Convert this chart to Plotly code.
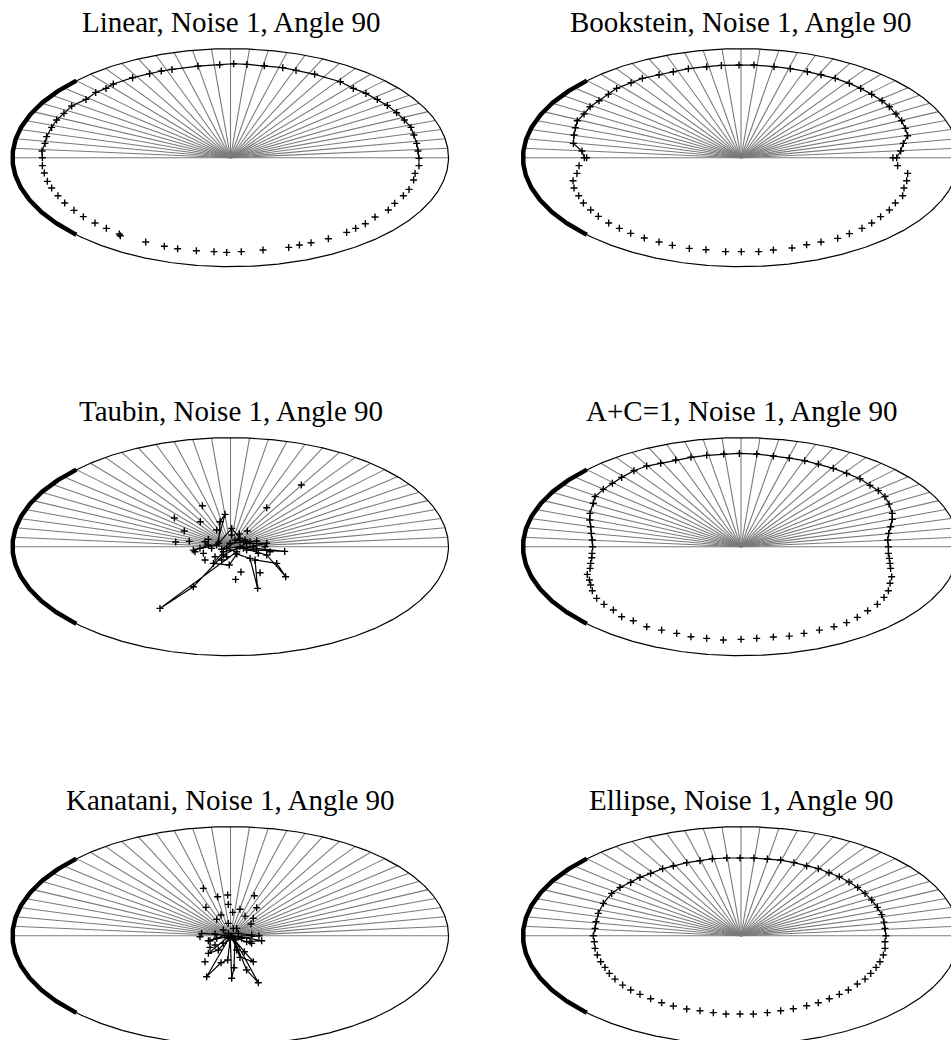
import numpy as np
import plotly.graph_objects as go

# ---------------- text ----------------
TITLES = [
    "Linear, Noise 1, Angle 90",
    "Bookstein, Noise 1, Angle 90",
    "Taubin, Noise 1, Angle 90",
    "A+C=1, Noise 1, Angle 90",
    "Kanatani, Noise 1, Angle 90",
    "Ellipse, Noise 1, Angle 90",
]

# ---------------- reference geometry (data units) ----------------
OUTER_A = 2.0          # semi-axis of the outer (true) ellipse, x
OUTER_B = 1.0          # semi-axis of the outer (true) ellipse, y
RAY_ANGLES_DEG = list(range(0, 181, 5))
ARC_START_DEG = 135    # data arc (90 degrees) drawn thick
ARC_END_DEG = 225

# ---------------- data ----------------
# Linear
linear_line_x = [-1.726, -1.729, -1.702, -1.687, -1.641, -1.595, -1.528, -1.457, -1.326, -1.237, -1.142, -1.075,
                 -0.898, -0.742, -0.635, -0.537, -0.298, -0.099, 0.029, 0.151, 0.310, 0.479, 0.601, 0.772,
                 1.008, 1.127, 1.243, 1.347, 1.439, 1.524, 1.595, 1.656, 1.683, 1.708, 1.720, 1.729]
linear_line_y = [0.000, 0.061, 0.131, 0.193, 0.278, 0.346, 0.407, 0.474, 0.535, 0.599, 0.636, 0.676,
                 0.734, 0.771, 0.795, 0.810, 0.841, 0.853, 0.862, 0.856, 0.844, 0.826, 0.801, 0.765,
                 0.697, 0.636, 0.590, 0.535, 0.480, 0.413, 0.346, 0.278, 0.208, 0.131, 0.061, -0.006]
linear_pts_x = [-1.726, -1.708, -1.680, -1.641, -1.583, -1.521, -1.436, -1.350, -1.243, -1.139, -1.020, -1.011,
                -0.778, -0.607, -0.485, -0.313, -0.151, -0.035, 0.099, 0.298, 0.534, 0.632, 0.739, 0.898,
                1.066, 1.148, 1.237, 1.326, 1.448, 1.506, 1.586, 1.638, 1.680, 1.693, 1.729]
linear_pts_y = [-0.073, -0.141, -0.217, -0.278, -0.349, -0.416, -0.483, -0.541, -0.599, -0.648, -0.700, -0.716,
                -0.774, -0.813, -0.835, -0.853, -0.862, -0.869, -0.862, -0.847, -0.823, -0.801, -0.780, -0.743,
                -0.685, -0.648, -0.606, -0.544, -0.480, -0.419, -0.349, -0.291, -0.205, -0.144, -0.073]

# Bookstein
bookstein_line_x = [-1.416, -1.437, -1.459, -1.538, -1.532, -1.520, -1.502, -1.440, -1.385, -1.303, -1.217, -1.141,
                    -1.009, -0.905, -0.752, -0.621, -0.483, -0.315, -0.180, -0.018, 0.119, 0.303, 0.453, 0.609,
                    0.734, 0.865, 0.994, 1.098, 1.199, 1.294, 1.361, 1.422, 1.474, 1.508, 1.529, 1.489, 1.465,
                    1.428, 1.394]
bookstein_line_y = [0.000, 0.000, 0.061, 0.131, 0.208, 0.275, 0.339, 0.401, 0.468, 0.523, 0.581, 0.636,
                    0.688, 0.728, 0.761, 0.789, 0.817, 0.835, 0.847, 0.850, 0.850, 0.835, 0.817, 0.789,
                    0.761, 0.728, 0.682, 0.636, 0.581, 0.523, 0.468, 0.401, 0.339, 0.269, 0.202, 0.131, 0.061,
                    0.000, 0.000]
bookstein_pts_x = [-1.486, -1.505, -1.541, -1.532, -1.489, -1.446, -1.379, -1.309, -1.214, -1.116, -1.012, -0.887,
                   -0.752, -0.630, -0.474, -0.321, -0.141, 0.003, 0.162, 0.297, 0.468, 0.602, 0.734, 0.887,
                   0.994, 1.110, 1.199, 1.281, 1.361, 1.416, 1.483, 1.495, 1.520, 1.529, 1.437]
bookstein_pts_y = [-0.073, -0.144, -0.211, -0.278, -0.349, -0.416, -0.480, -0.538, -0.599, -0.648, -0.694, -0.737,
                   -0.774, -0.804, -0.832, -0.844, -0.862, -0.862, -0.862, -0.847, -0.829, -0.798, -0.774, -0.740,
                   -0.697, -0.648, -0.599, -0.541, -0.480, -0.416, -0.349, -0.278, -0.211, -0.144, -0.073]

# Taubin
taubin_line_x = [-0.234, -0.203, -0.280, -0.341, -0.127, -0.050, -0.096, -0.109, 0.011, 0.087, -0.035, 0.057,
                 -0.647, -0.341, -0.066, 0.148, 0.332, -0.066, -0.157, -0.011, 0.057, 0.179, 0.249, 0.225,
                 0.424, 0.506, 0.332, 0.118, 0.240, 0.497, 0.087, -0.081, -0.005, 0.179, 0.041]
taubin_line_y = [0.046, 0.015, -0.015, -0.031, 0.015, 0.297, 0.229, 0.031, 0.168, 0.076, -0.015, -0.046,
                 -0.566, -0.367, -0.076, 0.031, 0.031, -0.046, -0.153, -0.168, -0.067, -0.107, -0.382, -0.122,
                 -0.153, -0.275, -0.076, -0.015, -0.031, -0.043, 0.000, -0.024, 0.031, 0.046, 0.061]
taubin_pts_x = [0.650, 0.332, -0.258, -0.515, -0.277, -0.424, -0.503, -0.378, 0.154, -0.127, 0.081, 0.240,
                0.047, 0.096, 0.271, -0.234, -0.081, -0.142, -0.326, -0.249, 0.148, 0.255, 0.362, 0.011,
                -0.203, 0.133, 0.317, -0.035, 0.209, -0.173]
taubin_pts_y = [0.566, 0.358, 0.376, 0.263, 0.229, 0.144, 0.043, 0.049, 0.144, 0.153, 0.116, 0.052,
                -0.300, -0.232, -0.239, -0.122, -0.122, -0.092, -0.046, -0.061, -0.031, -0.061, -0.046, 0.107,
                0.067, 0.061, 0.000, -0.092, 0.000, -0.015]

# A+C=1
apc_line_x = [-1.361, -1.364, -1.373, -1.379, -1.388, -1.385, -1.355, -1.339, -1.263, -1.180, -1.095, -0.982,
              -0.865, -0.737, -0.599, -0.459, -0.315, -0.159, -0.015, 0.144, 0.297, 0.443, 0.584, 0.709,
              0.847, 0.969, 1.092, 1.183, 1.260, 1.321, 1.358, 1.388, 1.388, 1.373, 1.355, 1.346, 1.352]
apc_line_y = [0.000, 0.061, 0.122, 0.183, 0.245, 0.306, 0.398, 0.459, 0.526, 0.581, 0.636, 0.697,
              0.740, 0.765, 0.795, 0.820, 0.838, 0.850, 0.856, 0.850, 0.832, 0.813, 0.789, 0.758,
              0.719, 0.673, 0.624, 0.563, 0.514, 0.459, 0.391, 0.306, 0.251, 0.183, 0.122, 0.061, 0.000]
apc_pts_x = [-1.367, -1.370, -1.379, -1.385, -1.410, -1.391, -1.379, -1.364, -1.324, -1.257, -1.171, -1.095,
             -0.988, -0.865, -0.728, -0.590, -0.459, -0.315, -0.162, 0.000, 0.144, 0.297, 0.443, 0.578,
             0.719, 0.853, 0.969, 1.067, 1.162, 1.251, 1.312, 1.352, 1.367, 1.382, 1.373, 1.367, 1.361, 1.352]
apc_pts_y = [-0.061, -0.101, -0.153, -0.199, -0.254, -0.306, -0.352, -0.404, -0.474, -0.529, -0.581, -0.642,
             -0.679, -0.734, -0.765, -0.795, -0.826, -0.841, -0.856, -0.850, -0.841, -0.829, -0.820, -0.795,
             -0.765, -0.734, -0.697, -0.648, -0.587, -0.529, -0.465, -0.404, -0.336, -0.275, -0.199, -0.153,
             -0.107, -0.061]

# Kanatani
kanatani_line_x = [-0.265, -0.142, -0.050, -0.127, -0.203, -0.020, -0.203, -0.112, -0.014, -0.219, -0.087, -0.026,
                   -0.002, 0.011, 0.032, 0.041, 0.255, 0.148, 0.026, 0.127, 0.209, 0.087, 0.011, 0.148,
                   0.286, 0.072, 0.194, 0.072, -0.020, 0.102, 0.261]
kanatani_line_y = [0.021, 0.015, 0.003, -0.024, -0.046, -0.009, -0.162, -0.131, -0.024, -0.376, -0.248, -0.223,
                   -0.024, -0.391, -0.294, -0.040, -0.431, -0.315, -0.024, -0.147, -0.239, -0.199, -0.009, -0.055,
                   -0.046, -0.009, 0.006, 0.021, 0.021, -0.024, 0.000]
kanatani_pts_x = [-0.249, -0.118, -0.026, 0.219, -0.225, -0.020, 0.240, 0.087, -0.087, 0.020, -0.127, 0.133,
                  0.209, 0.188, -0.020, 0.057, 0.026, -0.066, -0.280, -0.188, 0.179, -0.234, -0.188, 0.057,
                  0.194, -0.142, -0.066]
kanatani_pts_y = [0.434, 0.358, 0.373, 0.367, 0.260, 0.287, 0.257, 0.242, 0.190, 0.214, 0.150, 0.180,
                  0.159, 0.107, 0.113, 0.067, 0.067, 0.052, -0.009, -0.046, -0.055, -0.239, -0.107, -0.131,
                  -0.070, -0.086, -0.070]

# Ellipse
ellipse_line_x = [-1.355, -1.339, -1.330, -1.309, -1.263, -1.187, -1.110, -1.012, -0.927, -0.829, -0.719, -0.621,
                  -0.498, -0.376, -0.263, -0.131, -0.009, 0.119, 0.242, 0.364, 0.486, 0.602, 0.709, 0.807,
                  0.902, 0.991, 1.070, 1.138, 1.199, 1.251, 1.291, 1.312, 1.321, 1.330]
ellipse_line_y = [0.000, 0.067, 0.128, 0.205, 0.297, 0.388, 0.443, 0.489, 0.535, 0.572, 0.615, 0.639,
                  0.670, 0.688, 0.706, 0.713, 0.713, 0.713, 0.703, 0.694, 0.670, 0.639, 0.615, 0.578,
                  0.541, 0.492, 0.443, 0.388, 0.327, 0.260, 0.193, 0.125, 0.067, 0.000]
ellipse_pts_x = [-1.346, -1.339, -1.318, -1.287, -1.248, -1.208, -1.156, -1.086, -1.012, -0.927, -0.829, -0.728,
                 -0.621, -0.498, -0.376, -0.254, -0.138, -0.009, 0.113, 0.242, 0.364, 0.480, 0.602, 0.709,
                 0.810, 0.902, 0.985, 1.067, 1.138, 1.190, 1.239, 1.275, 1.306, 1.321, 1.321]
ellipse_pts_y = [-0.055, -0.116, -0.177, -0.239, -0.291, -0.346, -0.398, -0.453, -0.498, -0.538, -0.578, -0.615,
                 -0.645, -0.673, -0.688, -0.706, -0.719, -0.719, -0.719, -0.706, -0.688, -0.670, -0.642, -0.615,
                 -0.578, -0.538, -0.498, -0.443, -0.398, -0.346, -0.291, -0.239, -0.177, -0.116, -0.055]

PANELS = [
    (linear_line_x, linear_line_y, linear_pts_x, linear_pts_y),
    (bookstein_line_x, bookstein_line_y, bookstein_pts_x, bookstein_pts_y),
    (taubin_line_x, taubin_line_y, taubin_pts_x, taubin_pts_y),
    (apc_line_x, apc_line_y, apc_pts_x, apc_pts_y),
    (kanatani_line_x, kanatani_line_y, kanatani_pts_x, kanatani_pts_y),
    (ellipse_line_x, ellipse_line_y, ellipse_pts_x, ellipse_pts_y),
]

# ---------------- layout (pixels; page margin removed below) ----------------
W, H = 951, 1040
PX_PER_UNIT = 109.0
COL_CENTER = [230.5, 741.0]
COL_SPAN = [(0.0, 475.5), (475.5, 951.0)]
ROW_CENTER = [157.7, 546.7, 935.7]
ROW_SPAN = [(40.0, 330.0), (428.0, 718.0), (818.0, 1040.0)]
TITLE_FONT = 29
TITLE_BASELINE_ABOVE = 125.5

# geometric guides
t_full = np.linspace(0, 2 * np.pi, 721)
ell_x = OUTER_A * np.cos(t_full)
ell_y = OUTER_B * np.sin(t_full)
t_arc = np.radians(np.linspace(ARC_START_DEG, ARC_END_DEG, 181))
arc_x = OUTER_A * np.cos(t_arc)
arc_y = OUTER_B * np.sin(t_arc)
ray_x, ray_y = [], []
for d in RAY_ANGLES_DEG:
    r = np.radians(d)
    ray_x += [0.0, OUTER_A * np.cos(r), None]
    ray_y += [0.0, OUTER_B * np.sin(r), None]

fig = go.Figure()
layout = dict(
    width=W, height=H, margin=dict(l=0, r=0, t=0, b=0),
    paper_bgcolor="white", plot_bgcolor="rgba(0,0,0,0)", showlegend=False,
)
annotations = []
marker = dict(symbol="cross-thin", size=5, color="black", line=dict(color="black", width=1.4))

for i, (lx, ly, px, py) in enumerate(PANELS):
    row, col = divmod(i, 2)
    k = "" if i == 0 else str(i + 1)
    xa, ya = "x" + k, "y" + k
    cx, cy = COL_CENTER[col], ROW_CENTER[row]
    x0, x1 = COL_SPAN[col]
    y0, y1 = ROW_SPAN[row]
    layout["xaxis" + k] = dict(domain=[x0 / W, x1 / W], range=[(x0 - cx) / PX_PER_UNIT, (x1 - cx) / PX_PER_UNIT],
                               visible=False, anchor=ya, fixedrange=True)
    layout["yaxis" + k] = dict(domain=[1 - y1 / H, 1 - y0 / H], range=[(cy - y1) / PX_PER_UNIT, (cy - y0) / PX_PER_UNIT],
                               visible=False, anchor=xa, fixedrange=True)
    fig.add_trace(go.Scatter(x=ray_x, y=ray_y, mode="lines", line=dict(color="#7a7a7a", width=1.1),
                             xaxis=xa, yaxis=ya, hoverinfo="skip"))
    fig.add_trace(go.Scatter(x=ell_x, y=ell_y, mode="lines", line=dict(color="black", width=1.2),
                             xaxis=xa, yaxis=ya, hoverinfo="skip"))
    fig.add_trace(go.Scatter(x=arc_x, y=arc_y, mode="lines", line=dict(color="black", width=4.5),
                             xaxis=xa, yaxis=ya, hoverinfo="skip"))
    fig.add_trace(go.Scatter(x=lx, y=ly, mode="lines+markers", line=dict(color="black", width=1.2),
                             marker=marker, xaxis=xa, yaxis=ya))
    fig.add_trace(go.Scatter(x=px, y=py, mode="markers", marker=marker, xaxis=xa, yaxis=ya))
    baseline = cy - TITLE_BASELINE_ABOVE
    annotations.append(dict(
        text=TITLES[i], xref="paper", yref="paper", x=cx / W,
        y=1 - (baseline - 0.3375 * TITLE_FONT) / H, xanchor="center", yanchor="middle",
        showarrow=False, font=dict(family="Liberation Serif", size=TITLE_FONT, color="black"),
    ))

layout["annotations"] = annotations
fig.update_layout(**layout)
fig.write_html("out.html", config={"displayModeBar": False, "staticPlot": True},
               post_script="document.body.style.margin='0';")
